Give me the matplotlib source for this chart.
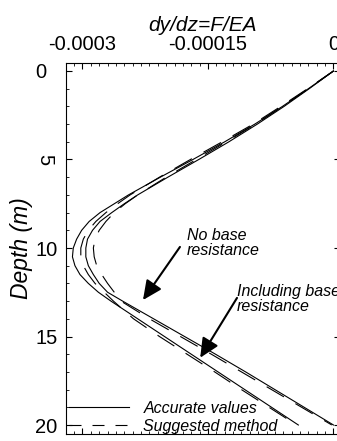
import matplotlib
matplotlib.use('Agg')
import matplotlib.pyplot as plt
from matplotlib.ticker import MultipleLocator
from matplotlib.lines import Line2D

plt.rcParams['font.family'] = ['Liberation Sans', 'DejaVu Sans']

# depth below pile head (m)
depth = [0, 1, 2, 3, 4, 5, 6, 7, 7.5, 8, 8.5, 9, 9.5, 10, 10.5, 11, 11.5,
         12, 12.5, 13, 14, 15, 16, 17, 18, 19, 20]

# dy/dz values, in units of 1e-6
acc_base = [0, -30, -61, -94, -130, -168, -207, -245, -262, -279, -292, -301, -307,
            -311, -312, -309, -303, -293, -281, -266, -234, -202, -170, -138, -106, -74, -42]
acc_nobase = [0, -29, -59, -91, -125, -161, -198, -234, -250, -265, -279, -288, -294,
              -296, -296, -293, -287, -280, -270, -252, -215, -178, -141, -105, -70, -35, 0]
sug_base = [0, -31, -63, -96, -133, -171, -208, -243, -258, -272, -284, -293, -299,
            -302, -302, -299, -293, -285, -274, -263, -239, -208, -175, -142, -110, -77, -44]
sug_nobase = [0, -30, -61, -93, -128, -164, -200, -234, -249, -262, -272, -280, -285,
              -287, -286, -283, -277, -270, -262, -254, -220, -183, -146, -110, -74, -38, -2]

xticks = [-0.0003, -0.00015, 0]
xtick_labels = ['-0.0003', '-0.00015', '0']
yticks = [0, 5, 10, 15, 20]

scale = 1e-6
dash_plot = (0, (18, 12))

fig = plt.figure(figsize=(3.37, 4.41), dpi=100)
ax = fig.add_axes([66 / 337, 7.5 / 441, 274 / 337, 371 / 441])

ax.plot([v * scale for v in acc_base], depth, color='k', lw=0.8)
ax.plot([v * scale for v in acc_nobase], depth, color='k', lw=0.8)
ax.plot([v * scale for v in sug_base], depth, color='k', lw=0.8, linestyle=dash_plot)
ax.plot([v * scale for v in sug_nobase], depth, color='k', lw=0.8, linestyle=dash_plot)

ax.set_xlim(-0.0003197, 0.0000078)
ax.set_ylim(20.48, -0.48)

# ticks on top, all pointing inwards
ax.xaxis.tick_top()
ax.xaxis.set_label_position('top')
ax.set_xticks(xticks)
ax.set_xticklabels(xtick_labels)
ax.xaxis.set_minor_locator(MultipleLocator(0.00001))
ax.set_yticks(yticks)
ax.yaxis.set_minor_locator(MultipleLocator(1))
ax.tick_params(which='both', direction='in', top=True, bottom=True, left=True, right=True,
               labeltop=True, labelbottom=False)
ax.tick_params(which='major', length=4.5, width=0.8, labelsize=14.5)
ax.tick_params(which='minor', length=2.5, width=0.6)
ax.tick_params(axis='x', which='major', pad=6)
ax.tick_params(axis='y', which='major', pad=22)
for lab in ax.get_yticklabels():
    lab.set_horizontalalignment('left')
ax.get_yticklabels()[1].set_rotation(270)
ax.get_yticklabels()[1].set_verticalalignment('center')

for s in ax.spines.values():
    s.set_linewidth(0.8)

ax.set_xlabel('dy/dz=F/EA', fontsize=15, style='italic', labelpad=3)
ax.set_ylabel('Depth (m)', fontsize=16.5, style='italic', labelpad=2)

# arrows with labels
arrow = dict(arrowstyle='-|>,head_length=0.9,head_width=0.42', color='k', lw=1.5,
             shrinkA=0, shrinkB=0, mutation_scale=13)
ax.annotate('', xy=(-0.0002277, 12.94), xytext=(-0.0001835, 9.94), arrowprops=arrow)
ax.annotate('', xy=(-0.0001593, 16.2), xytext=(-0.0001153, 12.82), arrowprops=arrow)
ax.text(-0.000175, 9.69, 'No base\nresistance', fontsize=11.5, style='italic',
        ha='left', va='center', linespacing=1.0)
ax.text(-0.0001153, 12.9, 'Including base\nresistance', fontsize=11.5, style='italic',
        ha='left', va='center', linespacing=1.0, clip_on=False)

handles = [Line2D([], [], color='k', lw=0.8),
           Line2D([], [], color='k', lw=0.8, linestyle=(0, (10.8, 9.9)))]
leg = ax.legend(handles, ['Accurate values', 'Suggested method'], loc='lower left',
                bbox_to_anchor=(0.0, -0.01), frameon=False, handlelength=3.75,
                handletextpad=0.9, labelspacing=0.2, borderpad=0.2, borderaxespad=0,
                prop={'size': 11.5, 'style': 'italic'})

fig.savefig('out.png', dpi=100)
